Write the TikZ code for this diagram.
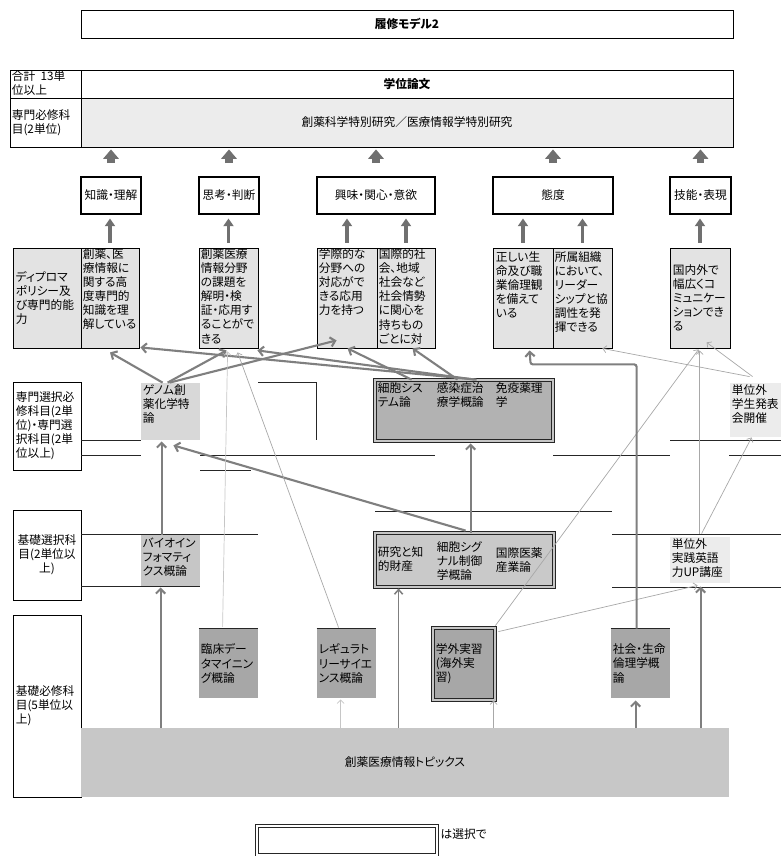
\documentclass[tikz,border=0pt]{standalone}
\usepackage{fontspec}
\setmainfont{Noto Sans CJK JP}[RawFeature=+palt]
\usetikzlibrary{arrows.meta,calc,fit}

\definecolor{arrowgray}{HTML}{707070}
\definecolor{linkgray}{HTML}{7F7F7F}
\definecolor{thingray}{HTML}{A8A8A8}
\definecolor{paleA}{HTML}{ECECEC}
\definecolor{dpfill}{HTML}{E3E3E3}
\definecolor{genfill}{HTML}{D8D8D8}
\definecolor{cellfill}{HTML}{B2B2B2}
\definecolor{biofill}{HTML}{C6C6C6}
\definecolor{resfill}{HTML}{C9C9C9}
\definecolor{corefill}{HTML}{A7A7A7}
\definecolor{topicfill}{HTML}{C7C7C7}

\tikzset{
  plain/.style={inner sep=0pt, line width=0.7pt},
  framed/.style={plain, draw=black},
  compbox/.style={plain, draw=black, line width=2pt},
  dblbox/.style={plain, draw=black!85, double=#1, double distance=1.3pt},
  txt/.style={font=\fontsize{10}{12}\selectfont, inner sep=0pt, align=left},
  txtb/.style={txt, font=\fontsize{10}{12}\selectfont\bfseries},
  rule/.style={draw=black!85, line width=0.8pt},
  blk/.style={draw=arrowgray, line width=6pt, -{Triangle[width=13pt,length=8pt]}},
  blksmall/.style={draw=arrowgray, line width=3.2pt, -{Triangle[width=8.5pt,length=6.5pt]}},
  conn/.style={draw=linkgray, line width=1.8pt, -{Straight Barb[length=4pt,width=8pt]}},
  midconn/.style={draw=linkgray, line width=1.3pt, -{Straight Barb[length=4pt,width=7pt]}},
  thinconn/.style={draw=thingray, line width=0.6pt, -{Straight Barb[length=3pt,width=6pt]}}
}

\begin{document}
\begin{tikzpicture}[x=0.03cm, y=-0.03cm]
\useasboundingbox (0,0) rectangle (781,856);

% title and thesis rows
\node[framed, fit={(81,10)(733,38)}] (title) {};
\node[txtb] (titleT) at (title.center) {履修モデル2};
\node[framed, fit={(10,70)(81,98)}] (totL) {};
\node[txt, anchor=north west] (totT) at ($(totL.north west)+(2,1)$) {合計\ \ 13単\\位以上};
\node[framed, fit={(81,70)(733,98)}] (thesis) {};
\node[txtb] (thesisT) at (thesis.center) {学位論文};
\node[framed, fit={(10,98)(81,147)}] (reqL) {};
\node[txt, anchor=west] (reqT) at ($(reqL.west)+(2,0)$) {専門必修科\\目(2単位)};
\node[framed, fill=paleA, fit={(81,98)(733,147)}] (req) {};
\node[txt] (reqC) at (req.center) {創薬科学特別研究／医療情報学特別研究};

% competences
\node[compbox, fit={(81,177)(141,214)}] (know) {};
\node[compbox, fit={(199,177)(259,214)}] (think) {};
\node[compbox, fit={(317,177)(435,214)}] (interest) {};
\node[compbox, fit={(493,177)(613,214)}] (attitude) {};
\node[compbox, fit={(670,177)(731,214)}] (skill) {};
\foreach \c/\t in {know/知識・理解, think/思考・判断, interest/興味・関心・意欲, attitude/態度, skill/技能・表現}
  \node[txt] (\c T) at (\c.center) {\t};

% diploma policy
\node[framed, fill=dpfill, fit={(13,248)(81,348)}] (dpL) {};
\node[txt, anchor=west] (dpLT) at ($(dpL.west)+(3,0)$) {ディプロマ\\ポリシー及\\び専門的能\\力};
\node[framed, fill=dpfill, fit={(81,248)(139,348)}] (dpA) {};
\node[framed, fill=dpfill, fit={(199,248)(258,348)}] (dpB) {};
\node[framed, fill=dpfill, fit={(317,248)(377,348)}] (dpC) {};
\node[framed, fill=dpfill, fit={(377,248)(435,348)}] (dpD) {};
\node[framed, fill=dpfill, fit={(493,248)(553,348)}] (dpE) {};
\node[framed, fill=dpfill, fit={(553,248)(612,348)}] (dpF) {};
\node[framed, fill=dpfill, fit={(670,248)(730,348)}] (dpG) {};
\node[txt, anchor=north west] (dpAT) at ($(dpA.north west)+(2,1)$) {創薬、医\\療情報に\\関する高\\度専門的\\知識を理\\解している};
\node[txt, anchor=north west] (dpBT) at ($(dpB.north west)+(2,1)$) {創薬医療\\情報分野\\の課題を\\解明・検\\証・応用す\\ることがで\\きる};
\node[txt, anchor=north west] (dpCT) at ($(dpC.north west)+(2,1)$) {学際的な\\分野への\\対応がで\\きる応用\\力を持つ};
\node[txt, anchor=north west] (dpDT) at ($(dpD.north west)+(2,1)$) {国際的社\\会、地域\\社会など\\社会情勢\\に関心を\\持ちもの\\ごとに対};
\node[txt, anchor=north west] (dpET) at ($(dpE.north west)+(3,4)$) {正しい生\\命及び職\\業倫理観\\を備えて\\いる};
\node[txt, anchor=north west] (dpFT) at ($(dpF.north west)+(2,4)$) {所属組織\\において、\\リーダー\\シップと協\\調性を発\\揮できる};
\node[txt, anchor=west] (dpGT) at ($(dpG.west)+(3,0)$) {国内外で\\幅広くコ\\ミュニケー\\ションでき\\る};

% specialised electives
\node[framed, fit={(13,382)(81,470)}] (advL) {};
\node[txt, anchor=west] (advT) at ($(advL.west)+(3,0)$) {専門選択必\\修科目(2単\\位)・専門選\\択科目(2単\\位以上)};
\node[plain, fill=genfill, fit={(141,383)(200,440)}] (genome) {};
\node[txt, anchor=north west] (genomeT) at ($(genome.north west)+(2,2)$) {ゲノム創\\薬化学特\\論};
\node[dblbox=gray!45, fill=cellfill, fit={(375,380)(553,441)}] (cell) {};
\node[txt, anchor=north west] (cellA) at ($(cell.north west)+(3,3)$) {細胞シス\\テム論};
\node[txt, anchor=north west] (cellB) at ($(cell.north west)+(62,3)$) {感染症治\\療学概論};
\node[txt, anchor=north west] (cellC) at ($(cell.north west)+(121,3)$) {免疫薬理\\学};
\node[plain, fill=paleA, fit={(730,383)(781,437)}] (pres) {};
\node[txt, anchor=north west] (presT) at ($(pres.north west)+(2,2)$) {単位外\\学生発表\\会開催};

% basic electives
\node[framed, fit={(13,510)(81,600)}] (basL) {};
\node[txt, align=center] (basT) at (basL.center) {基礎選択科\\目(2単位以\\上)};
\node[plain, fill=biofill, fit={(141,535)(200,586)}] (bio) {};
\node[txt, anchor=north west] (bioT) at ($(bio.north west)+(2,3)$) {バイオイン\\フォマティ\\クス概論};
\node[dblbox=gray!45, fill=resfill, fit={(375,533)(554,587)}] (res) {};
\node[txt, anchor=west] (resA) at ($(res.west)+(3,-1)$) {研究と知\\的財産};
\node[txt, anchor=west] (resB) at ($(res.west)+(62,1)$) {細胞シグ\\ナル制御\\学概論};
\node[txt, anchor=west] (resC) at ($(res.west)+(121,0)$) {国際医薬\\産業論};
\node[plain, fill=paleA, fit={(670,537)(730,583)}] (eng) {};
\node[txt, anchor=north west] (engT) at ($(eng.north west)+(2,2)$) {単位外\\実践英語\\力UP講座};

% basic required
\node[framed, fit={(13,615)(81,797)}] (coreL) {};
\node[txt, anchor=west] (coreT) at ($(coreL.west)+(3,0)$) {基礎必修科\\目(5単位以\\上)};
\node[plain, fill=topicfill, fit={(81,728)(729,797)}] (topics) {};
\node[txt] (topicsT) at (topics.center) {創薬医療情報トピックス};
\node[plain, fill=corefill, fit={(199,629)(258,698)}] (clin) {};
\node[txt, anchor=west] (clinT) at ($(clin.west)+(2,0)$) {臨床デー\\タマイニン\\グ概論};
\node[plain, fill=corefill, fit={(317,629)(376,698)}] (reg) {};
\node[txt, anchor=west] (regT) at ($(reg.west)+(2,0)$) {レギュラト\\リーサイエ\\ンス概論};
\node[dblbox=gray!45, fill=corefill, fit={(433,628)(495,700)}] (intern) {};
\node[txt, anchor=west] (internT) at ($(intern.west)+(3,0)$) {学外実習\\(海外実\\習)};
\node[plain, fill=corefill, fit={(611,629)(670,698)}] (ethics) {};
\node[txt, anchor=west] (ethicsT) at ($(ethics.west)+(2,0)$) {社会・生命\\倫理学概\\論};
\foreach \b in {clin,reg,ethics}
  \draw[rule, line width=1.1pt] (\b.north west) -- (\b.north east);

% legend
\node[dblbox=white, fill=white, fit={(257,826)(437,855)}] (legend) {};
\node[txt, anchor=west] (legendT) at ($(legend.north east)+(3,8)$) {は選択で};

% leftover grid lines
\foreach \xa/\xb/\yy in {81/141/440, 81/141/455, 200/435/455, 553/670/455, 729/781/455,
    670/781/440, 200/251/470, 81/258/534, 81/200/586, 375/612/511, 612/781/534, 612/781/587}
  \draw[rule] (\xa,\yy) -- (\xb,\yy);
\draw[rule] (258,382) -- (316,382) -- (316,440);

% block arrows
\foreach \c in {know,think,interest,attitude,skill}
  \draw[blk, shorten <=0.38cm, shorten >=0.06cm] (\c.north) -- (\c.north |- req.south);
\foreach \d/\c in {dpA/know, dpB/think, dpC/interest, dpD/interest, dpE/attitude, dpF/attitude, dpG/skill}
  \draw[blksmall, shorten <=0.15cm, shorten >=0.1cm] (\d.north) -- (\d.north |- \c.south);

% links from the genome lecture
\draw[conn] ($(genome.north west)+(22,0)$) -- ($(dpA.south)+(0,4)$);
\draw[conn] ($(genome.north west)+(27,0)$) -- ($(dpB.south west)+(28,2)$);
\draw[conn] ($(genome.north west)+(29,0)$) -- ($(dpC.south west)+(20,-8)$);

% links from the cell biology group
\draw[conn] ($(cell.north west)+(102,0)$) -- ($(dpA.south east)+(1,-1)$);
\draw[conn] ($(cell.north west)+(100,0)$) -- ($(dpB.south east)+(-1,2)$);
\draw[conn] ($(cell.north west)+(37,0)$) -- ($(dpC.south west)+(31,0)$);
\draw[conn] ($(cell.north west)+(83,0)$) -- ($(dpD.south west)+(36,0)$);

% links between course rows
\draw[conn] ($(res.north west)+(96,0)$) -- ($(cell.south west)+(96,2)$);
\draw[conn] ($(res.north west)+(91,-2)$) -- ($(genome.south east)+(-27,5)$);
\draw[conn] ($(bio.north west)+(21,0)$) -- ($(genome.south west)+(21,1)$);
\draw[conn] ($(topics.north west)+(80,0)$) -- ($(bio.south west)+(20,1)$);
\draw[thinconn, draw=gray!45] ($(clin.north west)+(24,-2)$) -- ($(dpB.south west)+(29,3)$);
\draw[thinconn] ($(reg.north west)+(22,-1)$) -- ($(dpB.south west)+(39,4)$);
\draw[thinconn, draw=gray!45] ($(topics.north west)+(260,0)$) -- ($(reg.south west)+(24,1)$);
\draw[midconn] ($(topics.north west)+(318,0)$) -- ($(res.south west)+(24,1)$);
\draw[thinconn] ($(topics.north west)+(413,0)$) -- ($(intern.south west)+(61,0)$);
\draw[thinconn] ($(intern.north east)+(0,-2)$) -- ($(dpG.south west)+(29,1)$);
\draw[thinconn] ($(intern.north east)+(3,4)$) -- ($(eng.south west)+(28,2)$);
\draw[conn, rounded corners=2pt] ($(ethics.north west)+(26,0)$) |- ($(dpE.south west)+(38,16)$) -- ($(dpE.south west)+(37,2)$);
\draw[conn] ($(topics.north west)+(555,0)$) -- ($(ethics.south west)+(25,2)$);
\draw[conn] ($(topics.north west)+(620,0)$) -- ($(eng.south west)+(31,3)$);
\draw[thinconn] ($(eng.north west)+(30,-3)$) -- ($(dpG.south west)+(30,2)$);
\draw[thinconn] ($(eng.north west)+(32,-3)$) -- ($(pres.south west)+(22,0)$);
\draw[thinconn] ($(pres.north west)+(23,-6)$) -- ($(dpG.south west)+(37,-6)$);
\draw[thinconn] ($(pres.north west)+(20,-6)$) -- ($(dpF.south east)+(-10,0)$);

\end{tikzpicture}
\end{document}
